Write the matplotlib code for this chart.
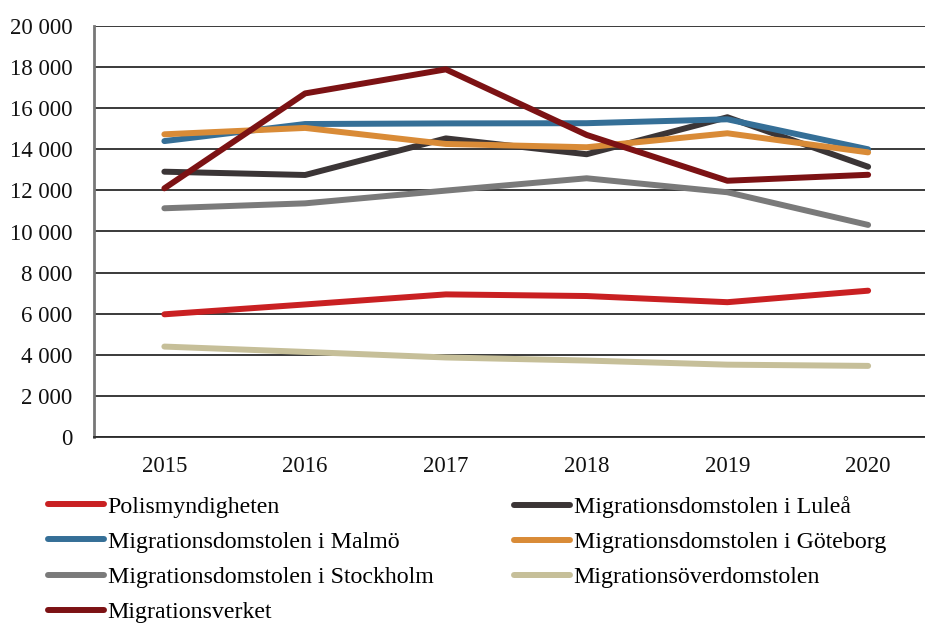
import matplotlib
matplotlib.use("Agg")
import matplotlib.pyplot as plt
from matplotlib.lines import Line2D

years = ["2015", "2016", "2017", "2018", "2019", "2020"]

polis = [5970, 6450, 6940, 6860, 6560, 7120]
lulea = [12910, 12750, 14530, 13760, 15560, 13150]
malmo = [14400, 15230, 15260, 15270, 15460, 14000]
goteborg = [14730, 15040, 14260, 14100, 14780, 13850]
stockholm = [11130, 11370, 11990, 12590, 11910, 10320]
overdomstolen = [4400, 4140, 3870, 3720, 3520, 3460]
verket = [12100, 16720, 17890, 14700, 12470, 12760]

labels = [
    "Polismyndigheten",
    "Migrationsdomstolen i Luleå",
    "Migrationsdomstolen i Malmö",
    "Migrationsdomstolen i Göteborg",
    "Migrationsdomstolen i Stockholm",
    "Migrationsöverdomstolen",
    "Migrationsverket",
]
series = [polis, lulea, malmo, goteborg, stockholm, overdomstolen, verket]
colors = ["#C92022", "#3B3536", "#356F97", "#D98B37", "#7A7A7A", "#C6BF99", "#7C1214"]

plt.rcParams["font.family"] = ["Liberation Serif", "DejaVu Serif"]

fig = plt.figure(figsize=(9.25, 6.24), dpi=100)
ax = fig.add_axes([94 / 925, 187 / 624, (938.5 - 94) / 925, 411 / 624])

x = list(range(len(years)))
lines = {}
for lab, vals, col in zip(labels, series, colors):
    (ln,) = ax.plot(x, vals, color=col, lw=4.3, solid_capstyle="round",
                    solid_joinstyle="round", zorder=3)
    lines[lab] = ln

ax.set_xlim(-0.5, len(years) - 0.5)
ax.set_ylim(0, 20000)
ax.set_xticks(x)
ax.set_xticklabels(years)
yt = list(range(0, 20001, 2000))
ax.set_yticks(yt)
ax.set_yticklabels([f"{v:,}".replace(",", " ") for v in yt])
ax.tick_params(axis="both", length=0, labelsize=16.5, colors="#111111")
ax.tick_params(axis="y", pad=15.5)
ax.tick_params(axis="x", pad=14)
ax.grid(axis="y", color="#2b2b2b", lw=1.3, zorder=1)
ax.set_axisbelow(True)
for s in ["top", "right"]:
    ax.spines[s].set_visible(False)
ax.spines["left"].set_color("#777777")
ax.spines["left"].set_linewidth(2)
ax.spines["bottom"].set_color("#2b2b2b")
ax.spines["bottom"].set_linewidth(1.3)

left_labels = [labels[0], labels[2], labels[4], labels[6]]
right_labels = [labels[1], labels[3], labels[5]]

def mk(labs):
    return [Line2D([0], [0], color=lines[l].get_color(), lw=4.3, solid_capstyle="round") for l in labs]

kw = dict(frameon=False, fontsize=17.2, handlelength=2.35, handletextpad=0.15,
          labelspacing=0.56, borderpad=0, borderaxespad=0, loc="upper left")
fig.legend(mk(left_labels), left_labels, bbox_to_anchor=(48 / 925, 1 - 496 / 624), **kw)
fig.legend(mk(right_labels), right_labels, bbox_to_anchor=(514 / 925, 1 - 496 / 624), **kw)

fig.savefig("out.png", dpi=100)
